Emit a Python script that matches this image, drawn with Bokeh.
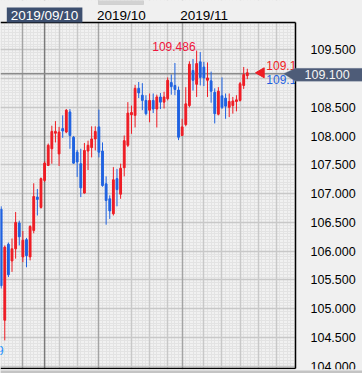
import numpy as np
import datetime as _dt
from bokeh.plotting import figure
from bokeh.models import (Range1d, FixedTicker, SingleIntervalTicker, NumeralTickFormatter,
                          Label, Span, Grid, ColumnDataSource, LinearAxis, BoxAnnotation,
                          PolyAnnotation)
from bokeh.core.properties import value
from bokeh.embed import file_html
from bokeh.resources import INLINE

# ---------------- data (USD/JPY daily) ----------------
dates = ["2019-08-23", "2019-08-26", "2019-08-27", "2019-08-28", "2019-08-29", "2019-08-30",
         "2019-09-02", "2019-09-03", "2019-09-04", "2019-09-05", "2019-09-06",
         "2019-09-09", "2019-09-10", "2019-09-11", "2019-09-12", "2019-09-13",
         "2019-09-16", "2019-09-17", "2019-09-18", "2019-09-19", "2019-09-20",
         "2019-09-23", "2019-09-24", "2019-09-25", "2019-09-26", "2019-09-27",
         "2019-09-30", "2019-10-01", "2019-10-02", "2019-10-03", "2019-10-04",
         "2019-10-07", "2019-10-08", "2019-10-09", "2019-10-10", "2019-10-11",
         "2019-10-14", "2019-10-15", "2019-10-16", "2019-10-17", "2019-10-18",
         "2019-10-21", "2019-10-22", "2019-10-23", "2019-10-24", "2019-10-25",
         "2019-10-28", "2019-10-29", "2019-10-30", "2019-10-31", "2019-11-01",
         "2019-11-04", "2019-11-05", "2019-11-06", "2019-11-07", "2019-11-08",
         "2019-11-11", "2019-11-12", "2019-11-13", "2019-11-14", "2019-11-15",
         "2019-11-18", "2019-11-19", "2019-11-20", "2019-11-21", "2019-11-22",
         "2019-11-25", "2019-11-26", "2019-11-27"]

opens = [106.73, 104.80, 106.12, 105.83, 106.04, 106.49,
         105.90, 106.20, 105.90, 106.36, 106.94,
         106.76, 107.23, 107.49, 107.78, 108.05,
         107.69, 108.13, 108.07, 108.42, 107.98,
         107.72, 107.52, 107.01, 107.74, 107.80,
         107.95, 108.16, 107.74, 107.17, 106.91,
         106.65, 107.26, 106.99, 107.45, 107.84,
         108.37, 108.36, 108.83, 108.71, 108.62,
         108.45, 108.62, 108.47, 108.68, 108.59,
         108.65, 108.93, 108.88, 108.80, 108.01,
         108.20, 108.53, 109.14, 108.90, 109.29,
         109.20, 108.97, 108.96, 108.76, 108.38,
         108.70, 108.66, 108.50, 108.53, 108.60,
         108.62, 108.88, 109.05]
highs = [106.78, 106.10, 106.15, 106.22, 106.68, 106.53,
         106.35, 106.23, 106.45, 107.18, 107.08,
         107.28, 107.56, 107.87, 108.18, 108.26,
         108.16, 108.36, 108.47, 108.47, 108.00,
         107.76, 107.78, 107.88, 107.92, 108.17,
         108.17, 108.46, 107.89, 107.30, 106.97,
         107.46, 107.43, 107.52, 108.01, 108.59,
         108.53, 108.89, 108.94, 108.92, 108.71,
         108.74, 108.74, 108.72, 108.75, 108.77,
         109.02, 109.07, 109.27, 108.86, 108.30,
         108.85, 109.30, 109.34, 109.486, 109.46,
         109.29, 109.28, 109.12, 108.83, 108.85,
         109.02, 108.74, 108.74, 108.68, 108.71,
         108.94, 109.20, 109.17]
lows = [105.35, 104.449, 105.55, 105.64, 105.87, 106.10,
        105.81, 105.72, 105.84, 106.31, 106.62,
        106.74, 107.20, 107.48, 107.52, 107.89,
        107.48, 107.97, 108.05, 107.78, 107.52,
        107.29, 106.94, 107.00, 107.41, 107.63,
        107.75, 107.63, 107.12, 106.46, 106.56,
        106.62, 106.78, 106.91, 107.30, 107.81,
        108.04, 108.15, 108.66, 108.45, 108.36,
        108.24, 108.40, 108.15, 108.47, 108.48,
        108.62, 108.72, 108.71, 107.93, 108.00,
        108.17, 108.50, 108.79, 108.68, 108.88,
        108.87, 108.68, 108.58, 108.22, 108.36,
        108.47, 108.30, 108.33, 108.39, 108.43,
        108.60, 108.82, 108.99]
closes = [105.40, 106.07, 105.59, 106.04, 106.50, 106.25,
          106.19, 105.92, 106.43, 106.95, 106.90,
          107.26, 107.53, 107.84, 108.08, 108.08,
          108.07, 108.09, 108.45, 108.01, 107.53,
          107.55, 107.10, 107.75, 107.84, 107.95,
          108.08, 107.72, 107.14, 106.88, 106.70,
          107.24, 107.07, 107.44, 107.92, 108.40,
          108.41, 108.83, 108.75, 108.62, 108.39,
          108.62, 108.47, 108.68, 108.59, 108.68,
          108.97, 108.86, 108.81, 107.98, 108.16,
          108.56, 109.25, 108.97, 109.26, 109.02,
          109.01, 109.01, 108.78, 108.39, 108.78,
          108.50, 108.52, 108.60, 108.61, 108.63,
          108.91, 109.07, 109.10]

# weekly grid lines (bar positions, incl. two future Mondays) and the crosshair
week_grid = [16, 21, 36, 41, 46, 56, 61, 66, 71, 76]
cross_date = "2019-09-10"
cross_price = 109.100
ask_price = 109.118
bid_price = 109.110
y_tick_step = 0.5

# ---------------- styling / geometry ----------------
RED = "#ee1c24"
BLUE = "#1f62e0"
BG = "#f0f0f0"
BOX = "#4e5c78"
FONT = "Liberation Sans"
W, H = 362, 373
PX_PER_BAR = 3.62
PX_PER_UNIT = 57.54
CHART_RIGHT_PX, CHART_TOP_PX, CHART_BOTTOM_PX = 295, 22, 368

x_start = -0.18
x_end = x_start + W / PX_PER_BAR
x_chart = x_start + CHART_RIGHT_PX / PX_PER_BAR
y_chart_top = 109.974
y_end = y_chart_top + CHART_TOP_PX / PX_PER_UNIT
y_start = y_end - H / PX_PER_UNIT
y_chart_bot = y_end - CHART_BOTTOM_PX / PX_PER_UNIT
def ypx(px):
    return y_end - px / PX_PER_UNIT
def xpx(px):
    return x_start + px / PX_PER_BAR

n = len(dates)
x = np.arange(n)
o = np.array(opens); h = np.array(highs); l = np.array(lows); c = np.array(closes)
up = c >= o
dd = [_dt.date.fromisoformat(s) for s in dates]
month_idx = [i for i in range(1, n) if dd[i].month != dd[i - 1].month]
ci = dates.index(cross_date)

p = figure(width=W, height=H, output_backend="svg", toolbar_location=None,
           x_range=Range1d(x_start, x_end), y_range=Range1d(y_start, y_end),
           x_axis_location=None, y_axis_location=None,
           min_border_left=0, min_border_top=0, min_border_right=0, min_border_bottom=0)
p.background_fill_color = "#f1f1f1"
p.border_fill_color = BG
p.outline_line_color = None

# grid: fine pattern + 0.5 price lines + weekly/monthly date lines
p.ygrid.ticker = SingleIntervalTicker(interval=y_tick_step, num_minor_ticks=10)
p.ygrid.grid_line_color = "#c8c8c8"
p.ygrid.grid_line_width = 1.5
p.ygrid.minor_grid_line_color = "#e3e3e3"
p.xgrid.ticker = SingleIntervalTicker(interval=1)
p.xgrid.grid_line_color = "#e3e3e3"
p.add_layout(Grid(dimension=0, ticker=FixedTicker(ticks=week_grid),
                  grid_line_color="#c8c8c8", grid_line_width=1.5))
p.add_layout(Grid(dimension=0, ticker=FixedTicker(ticks=month_idx),
                  grid_line_color="#a4a4a4", grid_line_width=1.5))

# crosshair
p.add_layout(Span(location=ci, dimension="height", line_color="#7a7a7a", line_width=1.5, level="underlay"))
p.add_layout(Span(location=cross_price - 1 / PX_PER_UNIT, dimension="width", line_color="#8a8a8a",
                  line_width=1.5, level="underlay"))

# candles
src_up = ColumnDataSource(dict(x=x[up], o=o[up], h=h[up], l=l[up], c=c[up]))
src_dn = ColumnDataSource(dict(x=x[~up], o=o[~up], h=h[~up], l=l[~up], c=c[~up]))
for src, col in ((src_up, RED), (src_dn, BLUE)):
    p.segment(x0="x", y0="l", x1="x", y1="h", source=src, line_color=col, line_width=1)
p.vbar(x="x", width=0.5, top="c", bottom="o", source=src_up, fill_color=RED, line_color=RED, line_width=1)
p.vbar(x="x", width=0.5, top="o", bottom="c", source=src_dn, fill_color=BLUE, line_color=BLUE, line_width=1)

# high / low markers
hi = int(np.argmax(h)); lo = int(np.argmin(l))
p.text(x=[hi], y=[h[hi]], text=[f"{h[hi]:.3f}"], text_color="#f0143c", text_align="right",
       text_baseline="bottom", x_offset=-1, y_offset=0, text_font=value(FONT), text_font_size="12px")
p.text(x=[lo], y=[l[lo]], text=[f"{l[lo]:.3f}"], text_color="#1e8cff", text_align="right",
       text_baseline="top", x_offset=-1, y_offset=6, text_font=value(FONT), text_font_size="12px")

# current price marker and bid/ask labels
last = n - 1
p.scatter(x=[last + 14.0 / PX_PER_BAR], y=[c[last]], marker="triangle", angle=np.pi / 2,
          size=10, fill_color=RED, line_color=RED)
p.text(x=[last], y=[ask_price], text=[f"{ask_price:.3f}"], text_color=RED, text_align="left",
       text_baseline="bottom", x_offset=19, y_offset=-2, text_font=value(FONT), text_font_size="12px")
p.text(x=[last], y=[bid_price], text=[f"{bid_price:.3f}"], text_color=BLUE, text_align="left",
       text_baseline="top", x_offset=19, y_offset=3, text_font=value(FONT), text_font_size="12px")

# backgrounds of the price strip (right) and the date strip (top), drawn over the grid
p.renderers.append(BoxAnnotation(left=x_chart, fill_color=BG, fill_alpha=1, line_color=None, level="glyph"))
p.renderers.append(BoxAnnotation(bottom=y_chart_top, fill_color=BG, fill_alpha=1, line_color=None, level="glyph"))

# frame borders and price axis
def border_axis(**kw):
    a = LinearAxis(**kw)
    a.axis_line_color = "#000000"
    a.axis_line_width = 1.5
    a.major_tick_line_color = None
    a.minor_tick_line_color = None
    return a

hidden_tick = round(cross_price / y_tick_step) * y_tick_step   # covered by the crosshair label
ax = border_axis(fixed_location=x_chart, bounds=(y_chart_bot, y_chart_top),
                 ticker=SingleIntervalTicker(interval=y_tick_step),
                 formatter=NumeralTickFormatter(format="0.000"))
ax.major_label_overrides = {hidden_tick: ""}
ax.major_label_standoff = 9
ax.major_label_text_font = FONT
ax.major_label_text_font_size = "12.5px"
ax.major_label_text_color = "#000000"
p.add_layout(ax, "right")
for side, loc in (("above", y_chart_top), ("below", y_chart_bot)):
    b = border_axis(fixed_location=loc, bounds=(x_start, x_chart), ticker=FixedTicker(ticks=[]))
    b.major_label_text_font_size = "0px"
    p.add_layout(b, side)

# bottom strip
p.add_layout(BoxAnnotation(top=ypx(CHART_BOTTOM_PX + 0.8), fill_color=BG, fill_alpha=1, line_color=None))
p.add_layout(BoxAnnotation(top=ypx(370), bottom=ypx(372.5), fill_color="#c4c4c4", fill_alpha=1, line_color=None))

# crosshair price label (arrow + box) on the price strip
cy = cross_price - 1 / PX_PER_UNIT
hb_up, hb_dn = 5.5 / PX_PER_UNIT, 7.5 / PX_PER_UNIT
p.add_layout(PolyAnnotation(xs=[xpx(283), x_chart, x_end, x_end, x_chart],
                            ys=[cy, cy + hb_up, cy + hb_up, cy - hb_dn, cy - hb_dn],
                            fill_color=BOX, fill_alpha=1, line_color="#7d8aa3", line_width=1, level="overlay"))
p.add_layout(Label(x=x_chart, y=cy - 1 / PX_PER_UNIT, x_offset=9, text=f"{cross_price:.3f}",
                   text_baseline="middle", text_color="#f4f4f4", text_font=FONT,
                   text_font_size="12.5px", level="overlay"))

# date strip labels
top_y = ypx(14.5)
p.add_layout(Label(x=ci, y=top_y, text=dd[ci].strftime("%Y/%m/%d"), text_align="center",
                   text_baseline="middle", text_color="#ffffff", text_font=FONT,
                   text_font_size="13.5px", background_fill_color="#3d4f6f",
                   padding=dict(left=4, right=4, top=0, bottom=0), level="overlay"))
for m in month_idx:
    if m < ci:
        continue
    p.add_layout(Label(x=m, y=top_y, text=dd[m].strftime("%Y/%m"), text_align="left",
                       text_baseline="middle", x_offset=-2, text_color="#000000", text_font=FONT,
                       text_font_size="13.5px", level="overlay"))

# small tab at the top edge
p.add_layout(BoxAnnotation(left=xpx(98), right=xpx(143), bottom=ypx(4), fill_color="#d2d2d2",
                           fill_alpha=1, line_color="#a8a8a8", level="overlay"))

template = """{% block preamble %}<style>html, body { margin: 0 !important; padding: 0; background: #f0f0f0; }</style>{% endblock %}"""
open("out.html", "w").write(file_html(p, INLINE, template=template))
